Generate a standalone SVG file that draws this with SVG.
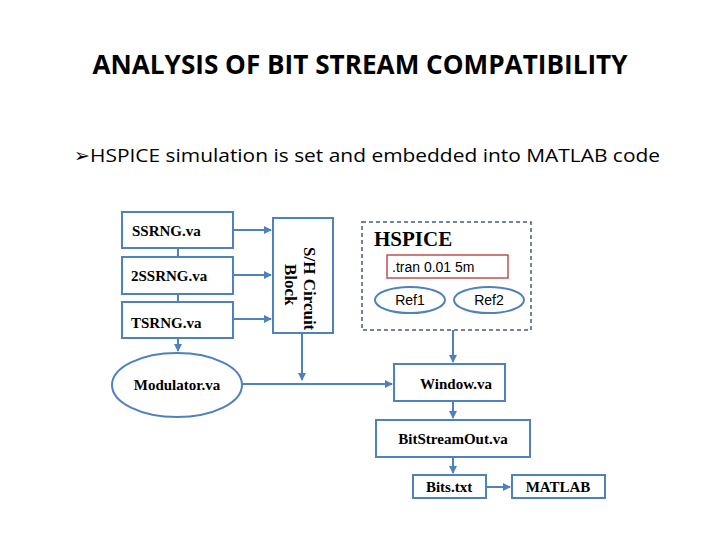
<svg xmlns="http://www.w3.org/2000/svg" width="720" height="540" viewBox="0 0 720 540">
<defs>
<marker id="ah" markerWidth="8" markerHeight="8" refX="7" refY="4" orient="auto" markerUnits="userSpaceOnUse"><path d="M0,0 L8,4 L0,8 z" fill="#4f81bd"/></marker>
<style>
.b{fill:#fff;stroke:#4f81bd;stroke-width:2}
.t{font-family:"Liberation Serif",serif;font-weight:bold;font-size:15px;fill:#000}
.c{stroke:#4f81bd;stroke-width:2;fill:none}
</style>
</defs>
<rect width="720" height="540" fill="#fff"/>
<text x="360" y="74" text-anchor="middle" font-family="Open Sans,sans-serif" font-size="26" font-weight="bold" textLength="535" lengthAdjust="spacingAndGlyphs">ANALYSIS OF BIT STREAM COMPATIBILITY</text>
<text x="74" y="162" font-family="DejaVu Sans,sans-serif" font-size="19">➢</text>
<text x="90" y="162" font-family="Open Sans,sans-serif" font-size="19" textLength="570" lengthAdjust="spacingAndGlyphs">HSPICE simulation is set and embedded into MATLAB code</text>
<g id="connectors">
<path class="c" d="M178,248 V257 M178,294 V302"/>
<path class="c" d="M233,230 H271" marker-end="url(#ah)"/>
<path class="c" d="M233,275 H271" marker-end="url(#ah)"/>
<path class="c" d="M233,319 H271" marker-end="url(#ah)"/>
<path class="c" d="M178,338 V351" marker-end="url(#ah)"/>
<path class="c" d="M243,384 H392" marker-end="url(#ah)"/>
<path class="c" d="M302,333 V380" marker-end="url(#ah)"/>
<path class="c" d="M453,330 V362" marker-end="url(#ah)"/>
<path class="c" d="M453,401 V418" marker-end="url(#ah)"/>
<path class="c" d="M453,457 V473" marker-end="url(#ah)"/>
<path class="c" d="M486,487 H510" marker-end="url(#ah)"/>
</g>
<g id="ssrng"><rect class="b" x="122" y="212" width="111" height="36"/><text class="t" x="132" y="236">SSRNG.va</text></g>
<g id="2ssrng"><rect class="b" x="122" y="257" width="111" height="37"/><text class="t" x="131" y="281">2SSRNG.va</text></g>
<g id="tsrng"><rect class="b" x="122" y="302" width="111" height="36"/><text class="t" x="131" y="328">TSRNG.va</text></g>
<g id="sh"><rect class="b" x="273" y="218" width="60" height="115"/><text class="t" transform="translate(304,247) rotate(90)" style="font-size:17px">S/H Circuit</text><text class="t" transform="translate(285,264) rotate(90)" style="font-size:17px">Block</text></g>
<g id="hspice"><rect x="362" y="222" width="169" height="108" fill="#fff" stroke="#4a5a78" stroke-width="1.5" stroke-dasharray="4,3"/><text class="t" x="374" y="246" style="font-size:21px">HSPICE</text>
<rect x="387" y="255" width="121" height="23" fill="#fff" stroke="#c0504d" stroke-width="1.5"/><text x="392" y="272" font-family="Liberation Sans,sans-serif" font-size="14">.tran 0.01 5m</text>
<ellipse cx="410" cy="300" rx="35" ry="13" class="b" stroke-width="1.5"/><text x="410" y="305" text-anchor="middle" font-family="Liberation Sans,sans-serif" font-size="14">Ref1</text>
<ellipse cx="489" cy="300" rx="35" ry="13" class="b" stroke-width="1.5"/><text x="489" y="305" text-anchor="middle" font-family="Liberation Sans,sans-serif" font-size="14">Ref2</text></g>
<g id="modulator"><ellipse class="b" cx="177" cy="385" rx="65" ry="32"/><text class="t" x="177" y="390" text-anchor="middle">Modulator.va</text></g>
<g id="window"><rect class="b" x="394" y="364" width="111" height="37"/><text class="t" x="456" y="389" text-anchor="middle">Window.va</text></g>
<g id="bso"><rect class="b" x="376" y="420" width="154" height="37"/><text class="t" x="453" y="444" text-anchor="middle">BitStreamOut.va</text></g>
<g id="bits"><rect class="b" x="413" y="475" width="73" height="23"/><text class="t" x="449" y="492" text-anchor="middle">Bits.txt</text></g>
<g id="matlab"><rect class="b" x="512" y="475" width="93" height="23"/><text class="t" x="558" y="492" text-anchor="middle">MATLAB</text></g>
</svg>
